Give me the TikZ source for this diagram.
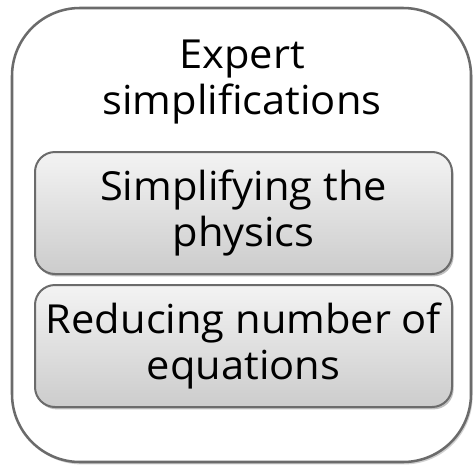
\documentclass[tikz,border=0pt]{standalone}
\usepackage{fontspec}
\setmainfont[FakeStretch=1.04]{Open Sans}
\usetikzlibrary{shadows}
\definecolor{edgegray}{HTML}{6B6B6B}
\definecolor{filltop}{HTML}{F3F3F3}
\definecolor{fillbot}{HTML}{CCCCCC}
\begin{document}
\begin{tikzpicture}[x=0.75pt,y=-0.75pt,
  outerbox/.style={draw=edgegray, line width=1.9pt, fill=white,
    rounded corners=51pt, minimum width=344.25pt, minimum height=340.5pt,
    inner sep=0pt,
    drop shadow={shadow xshift=1.2pt, shadow yshift=-1.8pt, opacity=0.18, fill=black}},
  innerbox/.style={draw=edgegray, line width=1.5pt,
    top color=filltop, bottom color=fillbot,
    rounded corners=15pt, minimum width=312.75pt, minimum height=91.5pt,
    inner sep=0pt, align=center, font=\fontsize{30pt}{35pt}\selectfont,
    drop shadow={shadow xshift=1.2pt, shadow yshift=-1.8pt, opacity=0.25, fill=black}},
  title/.style={align=center, inner sep=0pt, font=\fontsize{30pt}{35pt}\selectfont}]
\useasboundingbox (0,0) rectangle (473,464);
\node[outerbox] (outer) at (241.5,235) {};
\node[title] (head) at (242,82) {Expert\\simplifications};
\node[innerbox] (phys) at (243.5,213) {Simplifying the\\physics};
\node[innerbox] (eqs) at (243.5,346) {Reducing number of\\equations};
\end{tikzpicture}
\end{document}
